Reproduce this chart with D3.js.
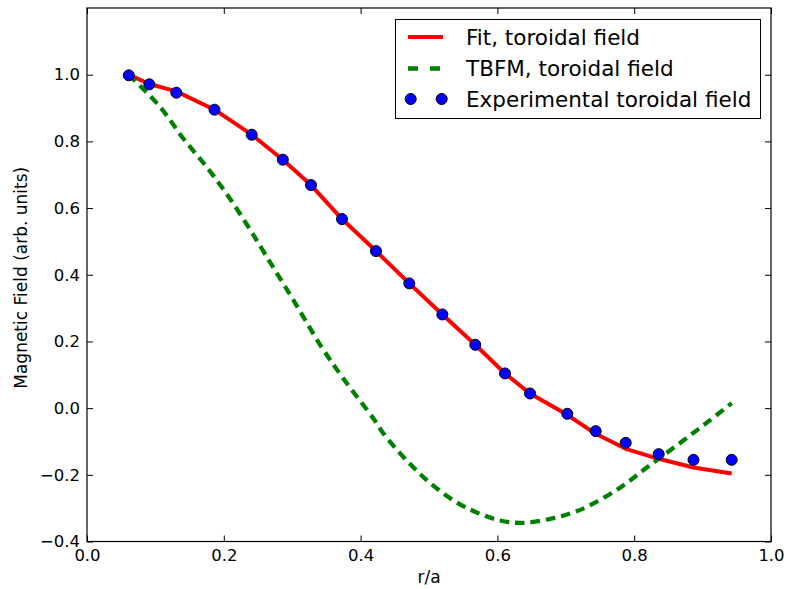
<!DOCTYPE html>
<html>
<head>
<meta charset="utf-8">
<script src="https://cdn.jsdelivr.net/npm/d3@7"></script>
<style>
  html, body { margin: 0; padding: 0; background: #fff; }
  svg { display: block; }
  text { font-family: "DejaVu Sans", sans-serif; fill: #000; }
</style>
</head>
<body>
<svg id="chart" width="789" height="589"></svg>
<script>
// ---- data ----
const expR = [0.0611, 0.0911, 0.1306, 0.1864, 0.2408, 0.2863, 0.3275, 0.3728, 0.4225, 0.4712,
              0.5195, 0.5677, 0.6111, 0.6477, 0.7022, 0.7437, 0.7876, 0.8358, 0.8867, 0.9425];
const expB = [0.998, 0.971, 0.946, 0.895, 0.820, 0.745, 0.669, 0.567, 0.471, 0.374,
              0.281, 0.190, 0.104, 0.044, -0.017, -0.069, -0.104, -0.138, -0.155, -0.155];

const fitR = expR;
const fitB = [1.000, 0.972, 0.950, 0.895, 0.820, 0.745, 0.669, 0.567, 0.471, 0.374,
              0.281, 0.190, 0.104, 0.044, -0.020, -0.077, -0.122, -0.152, -0.178, -0.196];

const tbfmR = [0.061, 0.107, 0.141, 0.175, 0.204, 0.233, 0.260, 0.302, 0.343, 0.375, 0.419, 0.433,
               0.472, 0.509, 0.553, 0.604, 0.638, 0.682, 0.708, 0.730, 0.777, 0.818, 0.862, 0.904, 0.9425];
const tbfmB = [1.000, 0.903, 0.808, 0.723, 0.643, 0.553, 0.463, 0.323, 0.183, 0.088, -0.032, -0.075,
               -0.167, -0.237, -0.297, -0.337, -0.344, -0.330, -0.315, -0.297, -0.242, -0.179, -0.112, -0.047, 0.015];

const xTicks = [0.0, 0.2, 0.4, 0.6, 0.8, 1.0];
const yLabelTicks = [-0.4, -0.2, 0.0, 0.2, 0.4, 0.6, 0.8, 1.0];
const legendLabels = ["Fit, toroidal field", "TBFM, toroidal field", "Experimental toroidal field"];

// ---- layout ----
const L = 87, R = 771, T = 8, B = 541.5;
const svg = d3.select("#chart");
const x = d3.scaleLinear().domain([0, 1]).range([L, R]);
const y = d3.scaleLinear().domain([-0.4, 1.2]).range([B, T]);
const fmt = d3.format(".1f");

// lines
const line = d3.line().x(d => x(d[0])).y(d => y(d[1]));
const smooth = d3.line().x(d => x(d[0])).y(d => y(d[1])).curve(d3.curveCatmullRom.alpha(0.5));

svg.append("path")
  .datum(fitR.map((r, i) => [r, fitB[i]]))
  .attr("d", line).attr("fill", "none").attr("stroke", "#ff0000")
  .attr("stroke-width", 4).attr("stroke-linejoin", "round");

svg.append("path")
  .datum(tbfmR.map((r, i) => [r, tbfmB[i]]))
  .attr("d", smooth).attr("fill", "none").attr("stroke", "#008000")
  .attr("stroke-width", 4.3).attr("stroke-dasharray", "9.5,6");

svg.append("g").selectAll("circle")
  .data(expR.map((r, i) => [r, expB[i]]))
  .join("circle")
  .attr("cx", d => x(d[0])).attr("cy", d => y(d[1])).attr("r", 5.5)
  .attr("fill", "#0000ff").attr("stroke", "#000").attr("stroke-width", 1);

// axes (ticks inward, on all four sides)
const gB = svg.append("g").attr("transform", `translate(0,${B})`)
  .call(d3.axisBottom(x).tickValues(xTicks).tickFormat(fmt).tickSize(-6).tickPadding(8));
const gT = svg.append("g").attr("transform", `translate(0,${T})`)
  .call(d3.axisTop(x).tickValues(xTicks).tickFormat("").tickSize(-6));
const gL = svg.append("g").attr("transform", `translate(${L},0)`)
  .call(d3.axisLeft(y).tickValues(yLabelTicks).tickFormat(fmt).tickSize(-6).tickPadding(7));
const gR = svg.append("g").attr("transform", `translate(${R},0)`)
  .call(d3.axisRight(y).tickValues(yLabelTicks).tickFormat("").tickSize(-6));
[gB, gT, gL, gR].forEach(g => {
  g.select(".domain").remove();
  g.selectAll(".tick line").attr("stroke", "#000").attr("stroke-width", 1);
  g.selectAll("text").style("font-family", "DejaVu Sans").style("font-size", "16.5px").attr("fill", "#000");
});

// frame
svg.append("rect").attr("x", L).attr("y", T).attr("width", R - L).attr("height", B - T)
  .attr("fill", "none").attr("stroke", "#000").attr("stroke-width", 1.2);

// axis labels
svg.append("text").attr("x", (L + R) / 2).attr("y", 583).attr("text-anchor", "middle")
  .style("font-size", "17px").text("r/a");
svg.append("text").attr("transform", `translate(27,${(T + B) / 2 + 3}) rotate(-90)`)
  .attr("text-anchor", "middle").style("font-size", "17px").text("Magnetic Field (arb. units)");

// legend
const lg = svg.append("g");
lg.append("rect").attr("x", 395.5).attr("y", 19.5).attr("width", 365).attr("height", 99)
  .attr("fill", "#fff").attr("stroke", "#000").attr("stroke-width", 1);
const rowY = [37, 68.5, 99];
lg.append("line").attr("x1", 408).attr("x2", 443).attr("y1", rowY[0]).attr("y2", rowY[0])
  .attr("stroke", "#ff0000").attr("stroke-width", 4);
lg.append("line").attr("x1", 408).attr("x2", 443).attr("y1", rowY[1]).attr("y2", rowY[1])
  .attr("stroke", "#008000").attr("stroke-width", 4.3).attr("stroke-dasharray", "10,12");
[410.7, 441.7].forEach(cx => lg.append("circle").attr("cx", cx).attr("cy", rowY[2]).attr("r", 5.5)
  .attr("fill", "#0000ff").attr("stroke", "#000").attr("stroke-width", 1));
legendLabels.forEach((t, i) => lg.append("text").attr("x", 466).attr("y", rowY[i])
  .attr("dy", "0.36em").style("font-size", "21.5px").text(t));
</script>
</body>
</html>
